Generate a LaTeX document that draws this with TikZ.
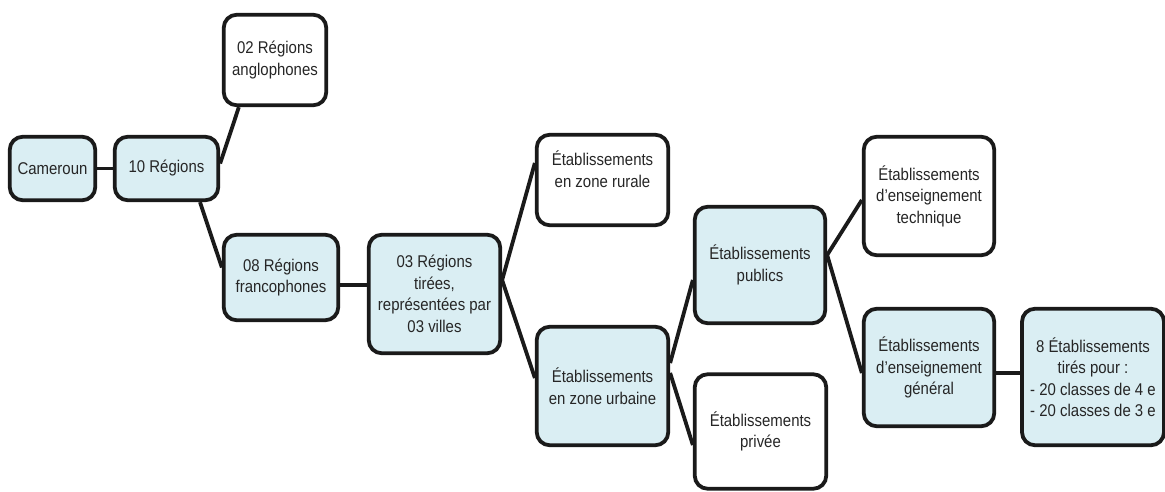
\documentclass[tikz,border=0pt]{standalone}
\usepackage{fontspec}
\setmainfont[FakeStretch=0.88]{Liberation Sans}
\usetikzlibrary{calc}
\definecolor{boxblue}{HTML}{DAEEF3}
\definecolor{edge}{HTML}{1A1A1A}
\definecolor{txt}{HTML}{262626}
\begin{document}
\begin{tikzpicture}[x=1pt,y=-1pt,
  box/.style={draw=edge, line width=3.8pt, rounded corners=13pt, inner sep=0pt,
    align=center, text=txt, font=\fontsize{17}{21.5}\selectfont},
  bluebox/.style={box, fill=boxblue},
  whitebox/.style={box, fill=white},
  link/.style={draw=edge, line width=3.8pt}]
\useasboundingbox (0,0) rectangle (1165,492);
\fill[white] (0,0) rectangle (1165,492);

\node[bluebox, minimum width=85.5pt, minimum height=63.5pt] (cam) at (52.5,168.5) {Cameroun};
\node[bluebox, minimum width=103.5pt, minimum height=63.5pt] (ten) at (166.5,168.5) {10 Régions};
\node[whitebox, minimum width=102.5pt, minimum height=90.5pt] (ang) at (275,60) {02 Régions\\anglophones};
\node[bluebox, minimum width=114.5pt, minimum height=85.5pt] (fra) at (281,277.5) {08 Régions\\francophones};
\node[bluebox, minimum width=131.5pt, minimum height=118.5pt] (tri) at (434.5,294) {03 Régions\\tirées,\\représentées par\\03 villes};
\node[whitebox, minimum width=131.5pt, minimum height=90.5pt] (rur) at (602.5,180) {Établissements\\en zone rurale\\\mbox{}};
\node[bluebox, minimum width=131.5pt, minimum height=118.5pt] (urb) at (602.5,386) {Établissements\\en zone urbaine};
\node[bluebox, minimum width=130.5pt, minimum height=116.5pt] (pub) at (760,265) {Établissements\\publics};
\node[whitebox, minimum width=131.5pt, minimum height=114.5pt] (priv) at (760.5,431.5) {Établissements\\privée};
\node[whitebox, minimum width=130.5pt, minimum height=118.5pt] (tech) at (929,196) {Établissements\\d’enseignement\\technique};
\node[bluebox, minimum width=130.5pt, minimum height=117.5pt] (gen) at (929,367.5) {Établissements\\d’enseignement\\général};
\node[bluebox, minimum width=142pt, minimum height=136.5pt] (huit) at (1093,377) {8 Établissements\\tirés pour :\\- 20 classes de 4 e\\- 20 classes de 3 e};

\draw[link] (cam.east) -- (ten.west);
\draw[link] ($(ten.east)+(0,-5)$) -- ($(ang.south west)+(17,0)$);
\draw[link] ($(ten.south)+(33.5,0)$) -- ($(fra.west)+(0,-10)$);
\draw[link] ($(fra.east)+(0,7.5)$) -- ($(tri.west)+(0,-9)$);
\draw[link] ($(tri.east)+(0,-14)$) -- ($(rur.west)+(0,-17)$);
\draw[link] ($(tri.east)+(0,-14)$) -- ($(urb.west)+(0,-8)$);
\draw[link] ($(urb.east)+(0,-23)$) -- ($(pub.west)+(0,15)$);
\draw[link] ($(urb.east)+(0,-13)$) -- ($(priv.west)+(0,13.5)$);
\draw[link] ($(pub.east)+(0,-10)$) -- ($(tech.west)+(0,4)$);
\draw[link] ($(pub.east)+(0,-10)$) -- ($(gen.west)+(0,5.5)$);
\draw[link] ($(gen.east)+(0,5.5)$) -- ($(huit.west)+(0,-4)$);
\end{tikzpicture}
\end{document}
